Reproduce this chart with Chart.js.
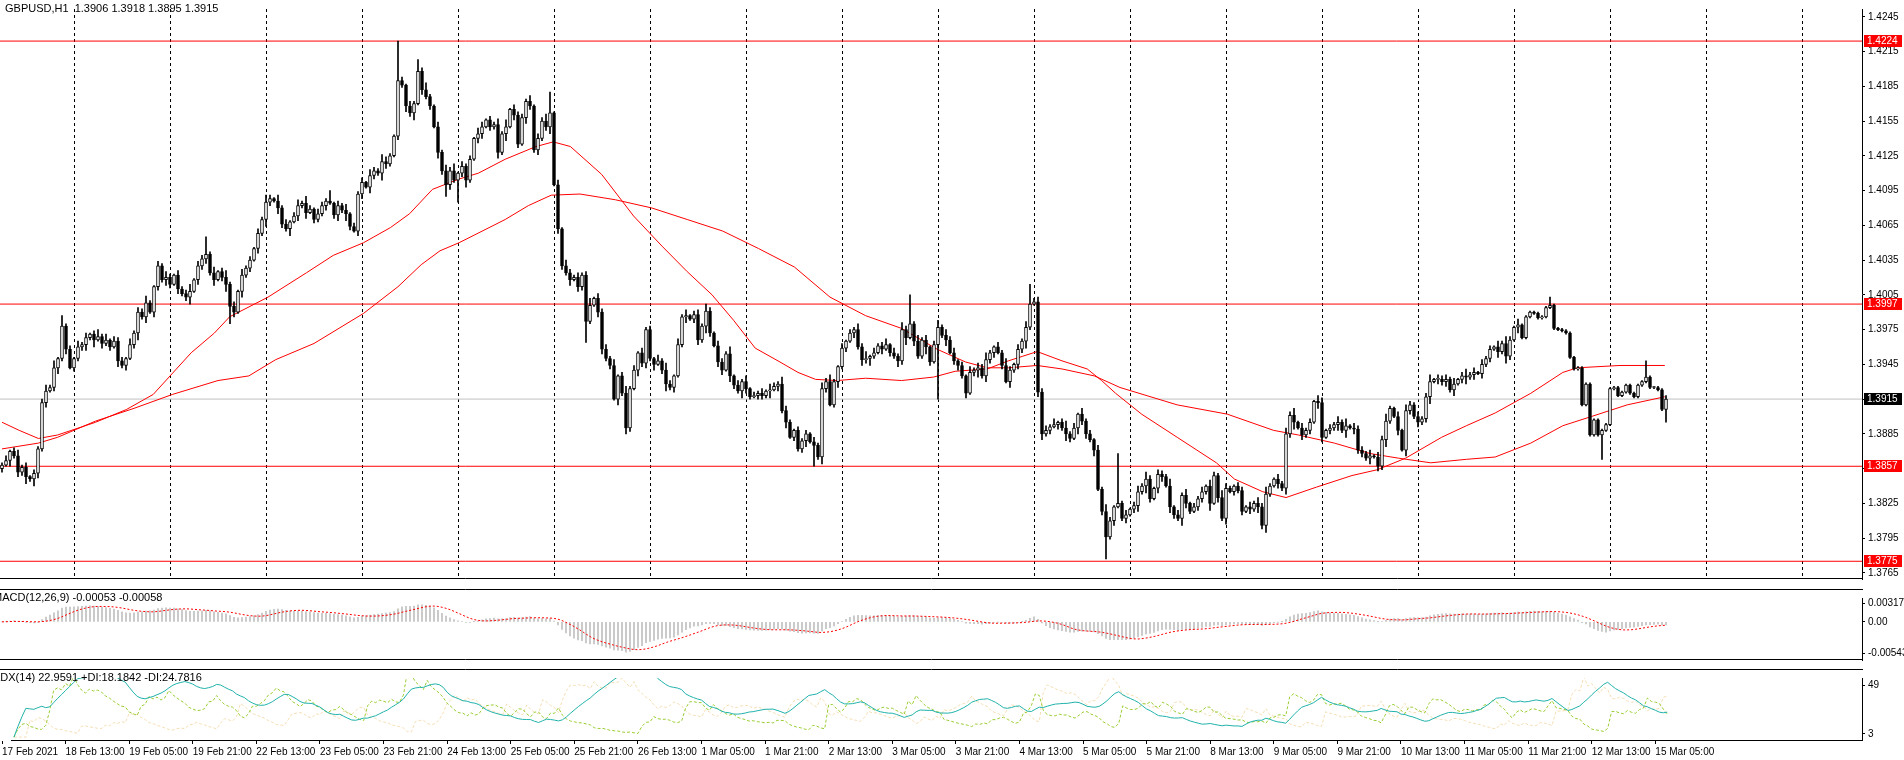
<!DOCTYPE html>
<html><head><meta charset="utf-8">
<script src="https://cdn.jsdelivr.net/npm/chart.js@4.4.1/dist/chart.umd.min.js"></script>
<style>
html,body{margin:0;padding:0;background:#fff;overflow:hidden;width:1904px;height:760px}
canvas{position:absolute;left:0}
</style></head><body>
<canvas id="cMain" width="1904" height="588" style="top:0;width:1904px;height:588px"></canvas>
<canvas id="cMacd" width="1904" height="80" style="top:589px;width:1904px;height:80px"></canvas>
<canvas id="cAdx" width="1904" height="91" style="top:669px;width:1904px;height:91px"></canvas>
<script>
// ---------- DATA ----------
const symbolTitle = "GBPUSD,H1  1.3906 1.3918 1.3895 1.3915";
const macdTitle = "MACD(12,26,9) -0.00053 -0.00058";
const adxTitle = "ADX(14) 22.9591 +DI:18.1842 -DI:24.7816";
const closes = [
1.3858,1.3862,1.3870,1.3866,1.3852,1.3856,1.3848,1.3846,1.3851,1.3872,
1.3912,1.3922,1.3925,1.3942,1.3950,1.3978,1.3958,1.3942,1.3950,1.3960,
1.3962,1.3968,1.3971,1.3966,1.3969,1.3963,1.3966,1.3960,1.3965,1.3948,
1.3944,1.3950,1.3962,1.3972,1.3990,1.3986,1.3998,1.3990,1.4012,1.4030,
1.4018,1.4020,1.4014,1.4022,1.4010,1.4006,1.4003,1.4008,1.4018,1.4030,
1.4036,1.4040,1.4024,1.4018,1.4025,1.4020,1.4014,1.3995,1.3990,1.4008,
1.4022,1.4028,1.4035,1.4045,1.4058,1.4070,1.4085,1.4088,1.4086,1.4080,
1.4066,1.4062,1.4068,1.4073,1.4082,1.4084,1.4076,1.4079,1.4070,1.4075,
1.4082,1.4086,1.4084,1.4074,1.4082,1.4078,1.4075,1.4064,1.4060,1.4092,
1.4102,1.4098,1.4108,1.4112,1.4110,1.4120,1.4118,1.4125,1.4142,1.4190,
1.4186,1.4168,1.4162,1.4170,1.4198,1.4182,1.4176,1.4168,1.4150,1.4128,
1.4112,1.4100,1.4112,1.4104,1.4110,1.4116,1.4104,1.4122,1.4140,1.4144,
1.4150,1.4156,1.4150,1.4152,1.4128,1.4144,1.4150,1.4165,1.4160,1.4135,
1.4158,1.4172,1.4168,1.4130,1.4140,1.4155,1.4150,1.4162,1.4100,1.4062,
1.4030,1.4024,1.4018,1.4020,1.4012,1.4022,1.3982,1.3996,1.4002,1.3990,
1.3958,1.3950,1.3944,1.3915,1.3935,1.3920,1.3890,1.3924,1.3940,1.3955,
1.3946,1.3975,1.3950,1.3945,1.3948,1.3940,1.3928,1.3925,1.3935,1.3962,
1.3986,1.3987,1.3984,1.3988,1.3966,1.3978,1.3991,1.3972,1.3961,1.3947,
1.3940,1.3954,1.3935,1.3927,1.3922,1.3930,1.3924,1.3917,1.3918,1.3920,
1.3918,1.3922,1.3923,1.3926,1.3928,1.3905,1.3895,1.3882,1.3888,1.3872,
1.3879,1.3885,1.3878,1.3875,1.3865,1.3924,1.3930,1.3910,1.3930,1.3943,
1.3959,1.3965,1.3972,1.3975,1.3960,1.3949,1.3950,1.3952,1.3955,1.3961,
1.3958,1.3962,1.3955,1.3952,1.3948,1.3975,1.3968,1.3980,1.3965,1.3952,
1.3966,1.3960,1.3947,1.3962,1.3977,1.3970,1.3966,1.3955,1.3948,1.3944,
1.3935,1.3920,1.3938,1.3940,1.3942,1.3935,1.3949,1.3955,1.3960,1.3955,
1.3944,1.3930,1.3940,1.3945,1.3958,1.3965,1.3977,1.3997,1.3999,1.3921,
1.3885,1.3888,1.3891,1.3893,1.3895,1.3890,1.3885,1.3881,1.3890,1.3902,
1.3896,1.3885,1.3880,1.3871,1.3837,1.3818,1.3796,1.3810,1.3822,1.3825,
1.3812,1.3815,1.3820,1.3823,1.3835,1.3840,1.3846,1.3829,1.3838,1.3850,
1.3848,1.3840,1.3822,1.3815,1.3812,1.3832,1.3825,1.3818,1.3822,1.3829,
1.3835,1.3840,1.3825,1.3849,1.3830,1.3812,1.3838,1.3835,1.3840,1.3836,
1.3818,1.3822,1.3820,1.3825,1.3822,1.3806,1.3833,1.3840,1.3846,1.3842,
1.3838,1.3885,1.3901,1.3895,1.3890,1.3884,1.3888,1.3895,1.3913,1.3912,
1.3882,1.3888,1.3890,1.3893,1.3895,1.3888,1.3892,1.3890,1.3889,1.3871,
1.3868,1.3864,1.3866,1.3865,1.3857,1.3880,1.3896,1.3907,1.3900,1.3888,
1.3871,1.3905,1.3910,1.3900,1.3895,1.3898,1.3917,1.3930,1.3932,1.3932,
1.3930,1.3932,1.3923,1.3928,1.3932,1.3935,1.3934,1.3936,1.3938,1.3937,
1.3945,1.3950,1.3958,1.3960,1.3956,1.3963,1.3952,1.3966,1.3977,1.3979,
1.3968,1.3986,1.3990,1.3989,1.3985,1.3986,1.3994,1.3996,1.3976,1.3975,
1.3974,1.3972,1.3951,1.3941,1.3942,1.3910,1.3928,1.3884,1.3897,1.3884,
1.3888,1.3893,1.3924,1.3925,1.3918,1.3921,1.3927,1.3920,1.3917,1.3927,
1.3930,1.3934,1.3925,1.3925,1.3923,1.3906,1.3915];
const firstOpen = 1.3855;
// wick lengths in pips, one digit per bar
const upWicks = "2413524132352614231524136251433152436214253142361434251362415231426315241352631432614251324153264213"+
"3142536214253614231541325261433251436214153242361434251362414231526315251342631432614251324153264213"+
"2314253621413253614235142631252413625341315243621426314251343425136241523142631524135263143261425132"+
"41532642133142536214253614231541325261433251436214153242361434251362414231526315";
const dnWicks = "3152436214241352413235261423152413625143253142361434251362415231426315326142513224135263144153264213"+
"2536142315314253621441325261431532423614325143621442315263153425136241251342631441532642133261425132"+
"3514263125231425362141325361422631425134241362534131524362145231426315342513624124135263144153264213"+
"32614251323142536214253614231541325261433251436214153242361434251362414231526315";
// spikes: [bar, high, low] (null = use wick)
const spikes = [[8,null,1.3840],[15,1.3987,null],[51,1.4055,null],[57,null,1.3980],[82,1.4095,null],[99,1.4224,null],[104,1.4208,null],
 [111,null,1.4090],[114,null,1.4085],[137,1.4180,null],[146,null,1.3964],[156,null,1.3885],[203,null,1.3857],[227,1.4005,null],
 [234,null,1.3915],[257,1.4014,null],[276,null,1.3777],[279,1.3868,null],[387,1.4003,null],[400,null,1.3863],[411,1.3948,null],[416,1.3918,1.3895]];
// moving averages
const maFastBars = [0,4.3,9.1,13.9,23.4,31.1,37.8,47.3,53.1,56.9,66.5,76.1,82.8,90.4,97.1,101.9,107.6,114.3,119.1,125.8,133.5,137.8,142.1,149.9,157.9,165,171.3,177.5,182.9,188.3,194.5,199,203.4,208.8,215.9,224.9,232.9,238.3,246.3,251.6,255.2,258.8,265,271.3,274.9,278.4,284.9,293.8,303.6,308.1,315.2,321,328.6,337.5,343.8,350.9,359.9,366.1,373.3,382.2,390.2,393.8,404.5,415.7];
const maFastVals = [1.3895,1.3888,1.3881,1.3884,1.3895,1.3906,1.3919,1.3955,1.3972,1.3986,1.4003,1.4024,1.4039,1.4050,1.4063,1.4075,1.4096,1.4105,1.4110,1.4122,1.4133,1.4137,1.4133,1.4109,1.4073,1.4047,1.4025,1.4005,1.3983,1.3959,1.3947,1.3938,1.3932,1.3931,1.3933,1.3931,1.3934,1.3939,1.3941,1.3948,1.3952,1.3956,1.3948,1.3941,1.3931,1.3920,1.3902,1.3882,1.3860,1.3846,1.3835,1.3830,1.3839,1.3849,1.3854,1.3864,1.3882,1.3892,1.3903,1.3920,1.3938,1.3942,1.3944,1.3944];
const maSlowBars = [0,9.1,13.9,23.4,33,42.6,54,61.7,68.4,78,90.4,99,104.8,109.5,114.3,125.8,131.6,137.3,144.5,153.4,162.4,171.3,180.2,189.1,198.1,207,215.9,224.9,233.8,240.9,246.3,251.6,258.8,265,273.1,279.5,293.8,306.3,317.9,324.1,333.1,342,349.1,357.2,366.1,373.3,382.2,390.2,397.4,406.3,415.7];
const maSlowVals = [1.3872,1.3877,1.3882,1.3896,1.3907,1.3919,1.3931,1.3935,1.3949,1.3963,1.3989,1.4012,1.4031,1.4043,1.4050,1.4070,1.4082,1.4091,1.4092,1.4087,1.4080,1.4070,1.4060,1.4045,1.4029,1.4003,1.3987,1.3976,1.3958,1.3947,1.3942,1.3942,1.3944,1.3941,1.3935,1.3925,1.3910,1.3902,1.3888,1.3884,1.3877,1.3868,1.3864,1.3860,1.3863,1.3865,1.3877,1.3892,1.3900,1.3910,1.3917];
const levelsRed = [1.4224,1.3997,1.3857,1.3775];
const lastPrice = 1.3915;
const priceTicks = [1.4245,1.4215,1.4185,1.4155,1.4125,1.4095,1.4065,1.4035,1.4005,1.3975,1.3945,1.3915,1.3885,1.3855,1.3825,1.3795,1.3765];
const dayGridBars = [6,30,54,78,102,126,150,174,198,222,246,270,294,318,342,366,390,414,438,462];
const timeLabelBars = [-3,13,29,45,61,77,93,109,125,141,157,173,189,205,221,237,253,269,285,301,317,333,349,365,381,397,413];
const timeLabels = ["17 Feb 2021","18 Feb 13:00","19 Feb 05:00","19 Feb 21:00","22 Feb 13:00","23 Feb 05:00","23 Feb 21:00","24 Feb 13:00","25 Feb 05:00","25 Feb 21:00","26 Feb 13:00","1 Mar 05:00","1 Mar 21:00","2 Mar 13:00","3 Mar 05:00","3 Mar 21:00","4 Mar 13:00","5 Mar 05:00","5 Mar 21:00","8 Mar 13:00","9 Mar 05:00","9 Mar 21:00","10 Mar 13:00","11 Mar 05:00","11 Mar 21:00","12 Mar 13:00","15 Mar 05:00"];
const macdTicks = [0.00317,0,-0.00543];
const macdTickLabels = ["0.00317","0.00","-0.00543"];
const adxTicks = [49,3];

// ---------- BUILD ----------
const N = closes.length;
const opens = [], highs = [], lows = [];
for (let i=0;i<N;i++){
  const o = i===0 ? firstOpen : closes[i-1];
  opens.push(o);
  highs.push(Math.max(o,closes[i]) + (+upWicks[i]||1)*0.0001);
  lows.push(Math.min(o,closes[i]) - (+dnWicks[i]||1)*0.0001);
}
spikes.forEach(([i,h,l])=>{ if(h!==null) highs[i]=h; if(l!==null) lows[i]=l; });

const XMIN=-0.5, XMAX=465, AXW=42;
const FONT = "'Liberation Sans', Arial, sans-serif";

function smooth(arr,k){const out=[];let e=arr[0];arr.forEach((v,i)=>{e=i===0?v:v*k+e*(1-k);out.push(e);});return out;}
const ema=(arr,p)=>smooth(arr,2/(p+1));
const e12=ema(closes,12), e26=ema(closes,26);
const macd = closes.map((_,i)=>e12[i]-e26[i]);
const signal = macd.map((_,i)=>{const s=Math.max(0,i-8);const seg=macd.slice(s,i+1);return seg.reduce((a,b)=>a+b,0)/seg.length;});

// ADX(14)
const tr=[],pdm=[],mdm=[];
for(let i=0;i<N;i++){
  if(i===0){tr.push(highs[0]-lows[0]);pdm.push(0);mdm.push(0);continue;}
  const up=highs[i]-highs[i-1], dn=lows[i-1]-lows[i];
  tr.push(Math.max(highs[i]-lows[i],Math.abs(highs[i]-closes[i-1]),Math.abs(lows[i]-closes[i-1])));
  pdm.push(up>dn&&up>0?up:0); mdm.push(dn>up&&dn>0?dn:0);
}
const W=0.1;
const sTr=smooth(tr,W), sP=smooth(pdm,W), sM=smooth(mdm,W);
const pdi=sP.map((v,i)=>100*v/sTr[i]), mdi=sM.map((v,i)=>100*v/sTr[i]);
const dx=pdi.map((v,i)=>{const s=v+mdi[i];return s?100*Math.abs(v-mdi[i])/s:0;});
const adx=smooth(dx,W);

const xy=(arr)=>arr.map((v,i)=>({x:i,y:v}));

function xScale(extra){
  return Object.assign({type:'linear',min:XMIN,max:XMAX,offset:false,
    ticks:{display:false},grid:{display:false},border:{display:false},
    afterFit:s=>{s.height=0;}},extra||{});
}

// ---------- MAIN ----------
const bodyColors = closes.map((c,i)=>c>=opens[i]?'#ffffff':'#000000');
const hline=(v,color)=>({type:'line',data:[{x:XMIN,y:v},{x:XMAX,y:v}],borderColor:color,borderWidth:1,pointRadius:0,order:5});
new Chart(document.getElementById('cMain'),{
  type:'bar',
  data:{datasets:[
    hline(lastPrice,'#c0c0c0'),
    ...levelsRed.map(v=>hline(v,'#ff0000')),
    {type:'line',data:maFastBars.map((b,i)=>({x:b,y:maFastVals[i]})),borderColor:'#ff0000',borderWidth:1,pointRadius:0,order:4},
    {type:'line',data:maSlowBars.map((b,i)=>({x:b,y:maSlowVals[i]})),borderColor:'#ff0000',borderWidth:1,pointRadius:0,order:4},
    {type:'bar',data:closes.map((c,i)=>({x:i,y:[lows[i],highs[i]]})),backgroundColor:'#000',barThickness:1,grouped:false,order:2},
    {type:'bar',data:closes.map((c,i)=>({x:i,y:[opens[i],c]})),backgroundColor:bodyColors,borderColor:'#000',borderWidth:1,borderSkipped:false,barThickness:3,minBarLength:1,grouped:false,order:1}
  ]},
  options:{responsive:false,animation:false,devicePixelRatio:1,layout:{padding:0},
    plugins:{legend:{display:false},tooltip:{enabled:false}},
    scales:{
      x:xScale({grid:{display:true,color:'#000',lineWidth:1,drawTicks:false},border:{display:false,dash:[3,3]},
        afterBuildTicks:s=>{s.ticks=dayGridBars.map(v=>({value:v}));}}),
      y:{position:'right',min:1.37597,max:1.42517,
        afterBuildTicks:s=>{s.ticks=priceTicks.map(v=>({value:v}));},
        afterFit:s=>{s.width=AXW;},
        ticks:{color:'#000',font:{family:FONT,size:10},padding:3,callback:v=>v.toFixed(4)},
        grid:{display:true,drawOnChartArea:false,drawTicks:true,tickLength:3,color:'#000'},
        border:{display:true,color:'#000'}}
    }},
  plugins:[{id:'deco',afterDraw(ch){
    const {ctx,chartArea:ca,scales:{y}}=ch;
    ctx.save();
    ctx.strokeStyle='#000';ctx.lineWidth=1;
    ctx.beginPath();ctx.moveTo(0,ca.bottom-0.5);ctx.lineTo(ca.right+1,ca.bottom-0.5);ctx.stroke();
    ctx.font=`10px ${FONT}`;ctx.textBaseline='middle';
    const tag=(v,bg)=>{const py=Math.round(y.getPixelForValue(v));ctx.fillStyle=bg;ctx.fillRect(ca.right+2,py-6,38,12);
      ctx.fillStyle='#fff';ctx.textAlign='left';ctx.fillText(v.toFixed(4),ca.right+5,py+0.5);};
    levelsRed.forEach(v=>tag(v,'#ff0000'));
    tag(lastPrice,'#000');
    ctx.fillStyle='#000';ctx.font=`11px ${FONT}`;ctx.textAlign='left';
    ctx.fillText(symbolTitle,5,9);
    ctx.restore();
  }}]
});

// ---------- MACD ----------
new Chart(document.getElementById('cMacd'),{
  type:'bar',
  data:{datasets:[
    {type:'line',data:xy(signal),borderColor:'#ff0000',borderWidth:1,borderDash:[2,2],pointRadius:0,order:1},
    {type:'bar',data:macd.map((v,i)=>({x:i,y:[0,v]})),backgroundColor:'#c0c0c0',barThickness:1,grouped:false,order:2}
  ]},
  options:{responsive:false,animation:false,devicePixelRatio:1,layout:{padding:0},
    plugins:{legend:{display:false},tooltip:{enabled:false}},
    scales:{x:xScale(),
      y:{position:'right',min:-0.006616,max:0.004135,
        afterBuildTicks:s=>{s.ticks=macdTicks.map(v=>({value:v}));},
        afterFit:s=>{s.width=AXW;},
        ticks:{color:'#000',font:{family:FONT,size:10},padding:3,callback:(v,i)=>macdTickLabels[i]},
        grid:{display:true,drawOnChartArea:false,drawTicks:true,tickLength:3,color:'#000'},
        border:{display:true,color:'#000'}}}},
  plugins:[{id:'deco2',afterDraw(ch){
    const {ctx,chartArea:ca}=ch;ctx.save();ctx.strokeStyle='#000';ctx.lineWidth=1;
    ctx.beginPath();ctx.moveTo(0,0.5);ctx.lineTo(ca.right+1,0.5);ctx.moveTo(0,ca.bottom-0.5);ctx.lineTo(ca.right+1,ca.bottom-0.5);ctx.stroke();
    ctx.fillStyle='#000';ctx.font=`11px ${FONT}`;ctx.textBaseline='middle';ctx.fillText(macdTitle,-7,9);ctx.restore();}}]
});

// ---------- ADX ----------
new Chart(document.getElementById('cAdx'),{
  type:'line',
  data:{datasets:[
    {data:xy(adx),borderColor:'#20b2aa',borderWidth:1,pointRadius:0,order:1},
    {data:xy(pdi),borderColor:'#9acd32',borderWidth:1,borderDash:[3,2],pointRadius:0,order:2},
    {data:xy(mdi),borderColor:'#f5deb3',borderWidth:1,borderDash:[3,2],pointRadius:0,order:3}
  ]},
  options:{responsive:false,animation:false,devicePixelRatio:1,layout:{padding:0},
    plugins:{legend:{display:false},tooltip:{enabled:false}},
    scales:{
      x:{type:'linear',min:XMIN,max:XMAX,
        afterBuildTicks:s=>{s.ticks=timeLabelBars.map(v=>({value:v}));},
        afterFit:s=>{s.height=20;},
        ticks:{display:true,align:'start',color:'#000',font:{family:FONT,size:10},padding:2,maxRotation:0,autoSkip:false,
          callback:(v,i)=>timeLabels[i]},
        grid:{display:true,drawOnChartArea:false,drawTicks:true,tickLength:4,color:'#000'},
        border:{display:true,color:'#000'}},
      y:{position:'right',min:-2.7,max:55.6,
        afterBuildTicks:s=>{s.ticks=adxTicks.map(v=>({value:v}));},
        afterFit:s=>{s.width=AXW;},
        ticks:{color:'#000',font:{family:FONT,size:10},padding:3},
        grid:{display:true,drawOnChartArea:false,drawTicks:true,tickLength:3,color:'#000'},
        border:{display:true,color:'#000'}}}},
  plugins:[{id:'deco3',afterDraw(ch){
    const {ctx,chartArea:ca}=ch;ctx.save();ctx.strokeStyle='#000';ctx.lineWidth=1;
    ctx.beginPath();ctx.moveTo(0,0.5);ctx.lineTo(ca.right+1,0.5);ctx.stroke();
    ctx.fillStyle='#000';ctx.font=`11px ${FONT}`;ctx.textBaseline='middle';ctx.fillText(adxTitle,-7,9);ctx.restore();}}]
});
</script></body></html>
